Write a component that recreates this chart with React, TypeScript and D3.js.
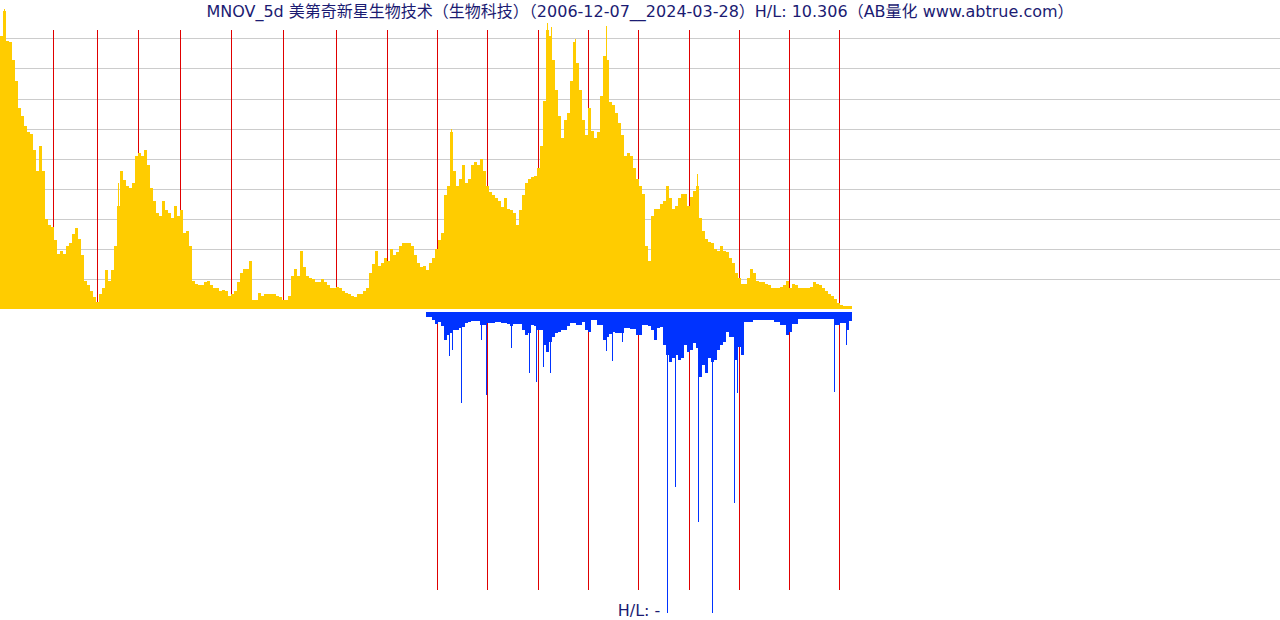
import React from "react";
import * as d3 from "d3";

// sample count (weekly bars), each yellow value covers 3 samples
const sampleCount = 852;
const binSize = 3;

// price level (relative units) per bin
const priceBins = [
  9.1, 9.93, 8.93, 8.87, 8.27, 7.6, 6.7, 6.43, 6.1, 5.87,
  5.83, 5.27, 4.6, 5.43, 4.6, 3.0, 2.77, 2.73, 2.27, 1.83,
  1.93, 1.83, 2.1, 2.2, 2.5, 2.7, 2.33, 1.77, 0.93, 0.77,
  0.57, 0.37, 0.23, 0.5, 0.67, 1.27, 0.93, 1.27, 2.1, 3.43,
  4.6, 4.27, 4.1, 4.03, 4.2, 5.1, 5.2, 5.1, 5.27, 4.77,
  4.03, 3.6, 3.2, 3.1, 3.6, 3.27, 3.17, 3.03, 3.43, 3.1,
  3.27, 2.53, 2.6, 2.1, 0.93, 0.83, 0.8, 0.77, 0.87, 0.93,
  0.77, 0.7, 0.67, 0.6, 0.63, 0.6, 0.43, 0.5, 0.6, 0.87,
  1.2, 1.33, 1.33, 1.6, 0.27, 0.3, 0.53, 0.43, 0.47, 0.5,
  0.47, 0.47, 0.43, 0.37, 0.27, 0.27, 0.43, 1.1, 1.33, 1.1,
  1.93, 1.37, 1.1, 1.03, 1.0, 0.87, 0.87, 0.97, 0.87, 0.77,
  0.7, 0.7, 0.73, 0.7, 0.6, 0.53, 0.47, 0.43, 0.4, 0.5,
  0.5, 0.6, 0.67, 1.2, 1.5, 1.93, 1.43, 1.53, 1.7, 1.6,
  2.0, 1.77, 1.87, 2.1, 2.2, 2.17, 2.17, 2.07, 1.77, 1.53,
  1.4, 1.43, 1.27, 1.53, 1.7, 2.0, 2.27, 2.53, 3.77, 4.1,
  5.87, 4.6, 4.1, 4.33, 4.77, 4.2, 4.33, 4.77, 4.87, 4.77,
  5.0, 4.6, 4.1, 3.87, 3.77, 3.7, 3.6, 3.37, 3.67, 3.33,
  3.27, 3.17, 2.77, 3.27, 3.77, 4.2, 4.33, 4.4, 4.43, 4.67,
  5.43, 6.93, 9.27, 9.1, 8.27, 7.27, 6.43, 5.67, 6.27, 6.53,
  7.6, 8.87, 8.2, 7.27, 6.27, 5.77, 6.67, 5.93, 5.67, 5.87,
  7.1, 8.43, 8.27, 6.87, 6.77, 6.53, 6.2, 5.77, 5.1, 5.2,
  5.1, 4.67, 4.33, 4.1, 3.83, 2.1, 1.6, 3.1, 3.33, 3.33,
  3.5, 3.6, 4.1, 3.67, 3.33, 3.43, 3.67, 3.83, 3.83, 3.43,
  3.73, 3.93, 4.1, 3.03, 2.6, 2.33, 2.23, 2.17, 2.0, 1.93,
  2.1, 1.93, 1.87, 1.67, 1.53, 1.17, 1.03, 0.83, 0.83, 1.03,
  1.33, 1.2, 0.93, 0.9, 0.87, 0.83, 0.77, 0.67, 0.67, 0.7,
  0.73, 0.77, 0.93, 0.7, 0.83, 0.8, 0.67, 0.67, 0.7, 0.7,
  0.73, 0.87, 0.83, 0.77, 0.7, 0.57, 0.5, 0.43, 0.33, 0.2,
  0.13, 0.1, 0.07, 0.1,
];

// single-week highs [sample, value]
const priceSpikes: [number, number][] = [
  [4, 10.0], [5, 9.6], [118, 4.2], [451, 6.0], [547, 9.53], [551, 9.4],
  [575, 8.97], [606, 9.43], [697, 4.5],
];

// volume-ish series below, starts later
const flowStart = 426;
const flowBins = [
  0.17, 0.17, 0.27, 0.4, 0.33, 0.47, 0.93, 0.77, 0.7, 0.6,
  0.6, 0.53, 0.5, 0.37, 0.33, 0.3, 0.3, 0.3, 0.43, 0.43,
  0.37, 0.37, 0.37, 0.33, 0.33, 0.37, 0.37, 0.4, 0.47, 0.4,
  0.4, 0.4, 0.6, 0.77, 0.7, 0.43, 0.47, 0.6, 0.6, 1.1,
  1.33, 1.0, 0.83, 0.7, 0.67, 0.6, 0.6, 0.47, 0.37, 0.37,
  0.43, 0.43, 0.33, 0.6, 0.67, 0.27, 0.27, 0.43, 0.43, 0.93,
  0.83, 0.73, 0.67, 0.7, 0.7, 0.7, 0.53, 0.53, 0.57, 0.57,
  0.77, 0.77, 0.43, 0.43, 0.47, 0.6, 0.93, 0.53, 0.5, 1.1,
  1.43, 1.67, 1.53, 1.43, 1.6, 1.53, 1.1, 1.33, 1.27, 1.03,
  1.2, 2.17, 1.77, 2.03, 1.53, 1.67, 1.6, 1.27, 1.1, 1.0,
  0.67, 0.83, 0.83, 1.6, 1.17, 1.43, 0.33, 0.33, 0.33, 0.27,
  0.27, 0.27, 0.27, 0.27, 0.27, 0.27, 0.33, 0.33, 0.43, 0.43,
  0.77, 0.67, 0.4, 0.4, 0.23, 0.23, 0.23, 0.23, 0.23, 0.23,
  0.23, 0.23, 0.23, 0.23, 0.23, 0.23, 0.43, 0.43, 0.37, 0.37,
  0.6, 0.3,
];

const flowSpikes: [number, number][] = [
  [449, 1.47], [452, 1.27], [461, 3.03], [481, 0.93], [486, 2.77],
  [511, 1.2], [529, 2.03], [536, 2.33], [543, 1.83], [550, 2.03],
  [606, 1.3], [612, 1.63], [622, 1.0], [667, 10.03], [675, 5.83],
  [698, 7.0], [712, 10.03], [734, 6.37], [737, 2.7], [834, 2.67], [846, 1.1],
];

// year boundaries (sample index)
const yearMarks = [53, 97, 138, 180, 231, 283, 336, 387, 437, 487, 538, 588, 638, 689, 739, 789, 839];
const gridLevels = [1, 2, 3, 4, 5, 6, 7, 8, 9];

const title =
  "MNOV_5d 美第奇新星生物技术（生物科技）（2006-12-07__2024-03-28）H/L: 10.306（AB量化  www.abtrue.com）";

const W = 1280;
const H = 620;

export default function App() {
  const x = d3.scaleLinear().domain([0, sampleCount]).range([0, 852]);
  const yTop = d3.scaleLinear().domain([0, 10]).range([308.5, 8.5]);
  const yBot = d3.scaleLinear().domain([0, 10]).range([312, 612]);

  const font = "Tahoma, 'DejaVu Sans', 'Noto Sans CJK SC', sans-serif";
  const textColor = "#1b1b72";

  return (
    <svg
      width={W}
      height={H}
      style={{ position: "absolute", left: 0, top: 0, background: "#fff" }}
      shapeRendering="crispEdges"
    >
      {gridLevels.map((g) => (
        <line key={g} x1={0} x2={W} y1={Math.round(yTop(g)) + 0.5} y2={Math.round(yTop(g)) + 0.5} stroke="#cccccc" />
      ))}
      {yearMarks.map((m) => (
        <line key={"t" + m} x1={x(m) + 0.5} x2={x(m) + 0.5} y1={30} y2={yTop(0)} stroke="#e00000" />
      ))}
      {yearMarks
        .filter((m) => m >= flowStart)
        .map((m) => (
          <line key={"b" + m} x1={x(m) + 0.5} x2={x(m) + 0.5} y1={312} y2={590} stroke="#e00000" />
        ))}
      <g fill="#ffcc00">
        {priceBins.map((v, i) => (
          <rect key={i} x={x(i * binSize)} width={x(binSize) - x(0)} y={yTop(v)} height={yTop(0) - yTop(v)} />
        ))}
        {priceSpikes.map(([s, v]) => (
          <rect key={"s" + s} x={x(s)} width={x(1) - x(0)} y={yTop(v)} height={yTop(0) - yTop(v)} />
        ))}
      </g>
      <g fill="#0033ff">
        {flowBins.map((v, i) => (
          <rect key={i} x={x(flowStart + i * binSize)} width={x(binSize) - x(0)} y={yBot(0)} height={yBot(v) - yBot(0)} />
        ))}
        {flowSpikes.map(([s, v]) => (
          <rect key={"s" + s} x={x(s)} width={x(1) - x(0)} y={yBot(0)} height={yBot(v) - yBot(0)} />
        ))}
      </g>
      <text x={640} y={17} textAnchor="middle" fontFamily={font} fontSize={16} fill={textColor}>
        {title}
      </text>
      <text x={639} y={616} textAnchor="middle" fontFamily={font} fontSize={16} fill={textColor}>
        H/L: -
      </text>
    </svg>
  );
}
